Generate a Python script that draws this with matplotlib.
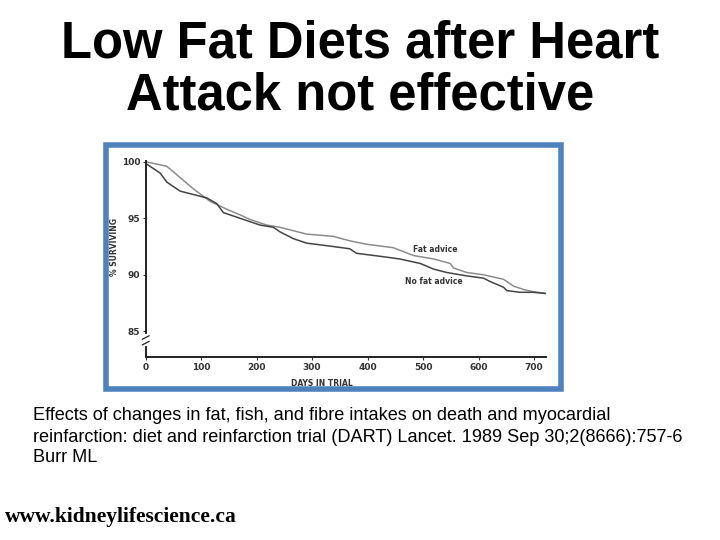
import matplotlib
matplotlib.use('Agg')
import matplotlib.pyplot as plt
from matplotlib.patches import Rectangle
import numpy as np

# survival curves (days, % surviving)
fatDays = [0, 38, 86, 116, 146, 170, 188, 218, 242, 290, 338, 368, 398,
           446, 483, 519, 549, 555, 579, 609, 645, 663, 681, 699, 720]
fatSurv = [100, 99.6, 97.6, 96.5, 95.8, 95.3, 94.9, 94.4, 94.2, 93.6, 93.4,
           93.0, 92.7, 92.4, 91.7, 91.4, 91.0, 90.6, 90.2, 90.0, 89.6, 89.0,
           88.7, 88.5, 88.35]

noFatDays = [0, 26, 38, 62, 86, 110, 128, 140, 158, 182, 206, 230, 242, 266,
             290, 338, 368, 380, 428, 458, 495, 519, 543, 579, 609, 621, 645,
             651, 675, 699, 720]
noFatSurv = [99.85, 99.0, 98.2, 97.4, 97.1, 96.8, 96.3, 95.5, 95.2, 94.8,
             94.4, 94.2, 93.8, 93.2, 92.8, 92.5, 92.3, 91.9, 91.6, 91.4, 91.0,
             90.5, 90.2, 89.9, 89.7, 89.4, 88.9, 88.6, 88.45, 88.45, 88.35]

xTicks = [0, 100, 200, 300, 400, 500, 600, 700]
yTicks = [85, 90, 95, 100]

titleLines = ['Low Fat Diets after Heart', 'Attack not effective']
captionLines = ['Effects of changes in fat, fish, and fibre intakes on death and myocardial',
                'reinfarction: diet and reinfarction trial (DART) Lancet. 1989 Sep 30;2(8666):757-6',
                'Burr ML']
footerText = 'www.kidneylifescience.ca'

W, H = 720, 540
fig = plt.figure(figsize=(7.2, 5.4), dpi=100)
fig.patch.set_facecolor('white')

def fx(px):
    return px / W

def fy(py):
    return 1 - py / H

# title, one text per line so the baselines sit where they should
for line, base in zip(titleLines, [58, 110]):
    fig.text(0.5, fy(base), line, ha='center', va='baseline', fontsize=36.5,
             fontweight='bold', family='Liberation Sans', color='black')

# blue frame round the scanned chart
frame = Rectangle((fx(105.5), fy(388.5)), fx(560.5) - fx(105.5),
                  fy(145.5) - fy(388.5), transform=fig.transFigure,
                  fill=False, edgecolor='#4f81bd', linewidth=4)
fig.patches.append(frame)

# chart axes
ax = fig.add_axes((fx(145.7), fy(357.3), fx(400.5), (357.3 - 160.6) / H))
ax.set_xlim(0, 722)
ax.set_ylim(82.7, 100.1)
for s in ['top', 'right']:
    ax.spines[s].set_visible(False)
for s in ['left', 'bottom']:
    ax.spines[s].set_linewidth(1.4)
    ax.spines[s].set_color('#222222')
ax.set_xticks(xTicks)
ax.set_yticks(yTicks)
ax.tick_params(axis='both', length=2, width=0.8, labelsize=6.5,
               colors='#333333', pad=2)
for lab in ax.get_xticklabels() + ax.get_yticklabels():
    lab.set_fontweight('bold')

ax.plot(fatDays, fatSurv, color='#8c8c8c', lw=1.1)
ax.plot(noFatDays, noFatSurv, color='#444444', lw=1.1)

ax.text(482, 92.25, 'Fat advice', fontsize=5.5, fontweight='bold',
        color='#333333', va='center')
ax.text(467, 89.4, 'No fat advice', fontsize=5.5, fontweight='bold',
        color='#333333', va='center')

# axis break marks on the y axis
ax.plot([0, 0], [83.9, 84.6], color='white', lw=3, clip_on=False, zorder=5)
for yb in [83.95, 84.45]:
    ax.plot([-6, 6], [yb - 0.15, yb + 0.15], color='#222222', lw=0.9,
            clip_on=False, zorder=6)

fig.text(fx(115), fy(247), '% SURVIVING', rotation=90, ha='center',
         va='center', fontsize=5.5, fontweight='bold', color='#333333')
fig.text(fx(322), fy(384), 'DAYS IN TRIAL', ha='center', va='center',
         fontsize=5.5, fontweight='bold', color='#333333')

# reference caption
for line, base in zip(captionLines, [420, 441.5, 462]):
    fig.text(fx(33), fy(base), line, ha='left', va='baseline', fontsize=13.1,
             family='Liberation Sans', color='black')

# footer
fig.text(fx(5), fy(522), footerText, ha='left', va='baseline', fontsize=15.5,
         family='Liberation Serif', fontweight='heavy', color='black')

fig.savefig('out.png', dpi=100)
